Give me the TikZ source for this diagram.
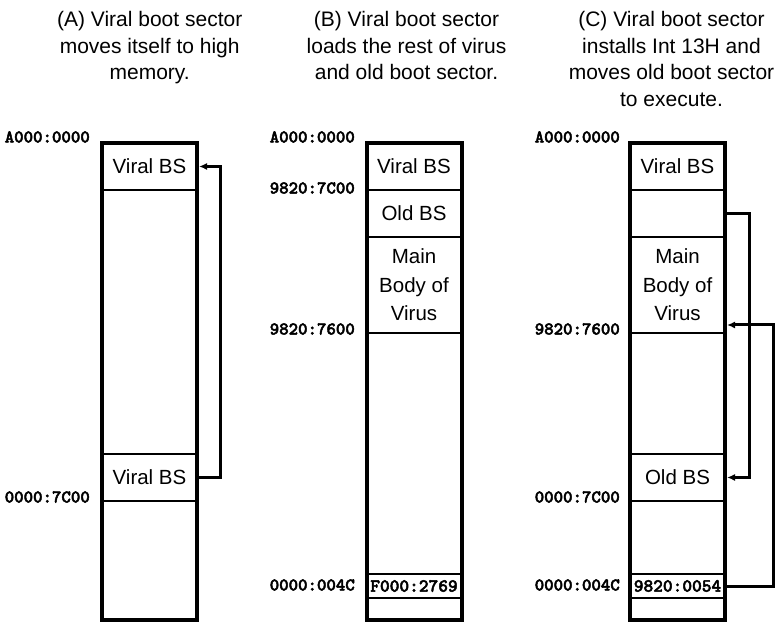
\documentclass[tikz,border=0pt]{standalone}
\usepackage{fontspec}
\setmainfont{Liberation Sans}
\newfontfamily\addrfont{lmmonolt10-bold.otf}[FakeBold=2.5]
\usetikzlibrary{arrows.meta,positioning,fit}

\begin{document}
\begin{tikzpicture}[x=1pt, y=1pt,
  cell/.style={draw, line width=2pt, minimum width=95pt, inner sep=0pt, outer sep=0pt, align=center, font=\fontsize{20.5}{28.5}\selectfont},
  frame/.style={draw, line width=4pt, inner sep=0pt},
  addr/.style={anchor=east, inner sep=0pt, font=\addrfont\fontsize{18}{18}\selectfont},
  ptr/.style={font=\addrfont\fontsize{18.5}{18.5}\selectfont},
  ttl/.style={anchor=north, align=center, inner sep=0pt, font=\fontsize{21}{26.7}\selectfont},
  move/.style={-{Latex[length=8pt,width=7pt]}, line width=3pt},
  node distance=0pt]
\useasboundingbox (0,0) rectangle (783,623);

% captions
\node[ttl] (capA) at (149.7,612) {(A) Viral boot sector\\moves itself to high\\memory.};
\node[ttl] (capB) at (406.5,612) {(B) Viral boot sector\\loads the rest of virus\\and old boot sector.};
\node[ttl] (capC) at (671.5,612) {(C) Viral boot sector\\installs Int 13H and\\moves old boot sector\\to execute.};

% (A) memory map
\node[cell, minimum height=47pt, anchor=north west] (vbsA) at (102,480) {Viral BS};
\node[cell, minimum height=264pt, below=of vbsA] (freeA) {};
\node[cell, minimum height=47pt, below=of freeA] (oldA) {Viral BS};
\node[cell, minimum height=119pt, below=of oldA] (lowA) {};
\node[frame, fit=(vbsA)(lowA)] (memA) {};
\node[addr, xshift=-12pt, yshift=6pt] (topA) at (vbsA.north west) {A000:0000};
\node[addr, xshift=-12pt, yshift=4pt] (bootA) at (lowA.north west) {0000:7C00};
\draw[move] (oldA.east) -- ++(23,0) |- ([xshift=2pt]vbsA.east);

% (B) memory map
\node[cell, minimum height=47pt, anchor=north west] (vbsB) at (366.5,480) {Viral BS};
\node[cell, minimum height=47pt, below=of vbsB] (oldB) {Old BS};
\node[cell, minimum height=96pt, below=of oldB] (bodyB) {Main\\Body of\\Virus};
\node[cell, minimum height=241pt, below=of bodyB] (freeB) {};
\node[cell, ptr, minimum height=24pt, below=of freeB] (ptrB) {F000:2769};
\node[cell, minimum height=22pt, below=of ptrB] (lowB) {};
\node[frame, fit=(vbsB)(lowB)] (memB) {};
\node[addr, xshift=-11.5pt, yshift=6pt] (topB) at (vbsB.north west) {A000:0000};
\node[addr, xshift=-11.5pt, yshift=2pt] (oldaddrB) at (oldB.north west) {9820:7C00};
\node[addr, xshift=-11.5pt, yshift=4pt] (bodyaddrB) at (freeB.north west) {9820:7600};
\node[addr, xshift=-11.5pt, yshift=1pt] (vecB) at (ptrB.west) {0000:004C};

% (C) memory map
\node[cell, minimum height=47pt, anchor=north west] (vbsC) at (630,480) {Viral BS};
\node[cell, minimum height=47pt, below=of vbsC] (spareC) {};
\node[cell, minimum height=96pt, below=of spareC] (bodyC) {Main\\Body of\\Virus};
\node[cell, minimum height=121pt, below=of bodyC] (freeC) {};
\node[cell, minimum height=47pt, below=of freeC] (oldC) {Old BS};
\node[cell, minimum height=73pt, below=of oldC] (gapC) {};
\node[cell, ptr, minimum height=24pt, below=of gapC] (ptrC) {9820:0054};
\node[cell, minimum height=22pt, below=of ptrC] (lowC) {};
\node[frame, fit=(vbsC)(lowC)] (memC) {};
\node[addr, xshift=-10pt, yshift=6pt] (topC) at (vbsC.north west) {A000:0000};
\node[addr, xshift=-10pt, yshift=4pt] (bodyaddrC) at (freeC.north west) {9820:7600};
\node[addr, xshift=-10pt, yshift=4pt] (bootC) at (gapC.north west) {0000:7C00};
\node[addr, xshift=-10pt, yshift=1pt] (vecC) at (ptrC.west) {0000:004C};
\draw[move] (spareC.east) -- ++(24,0) |- ([xshift=2pt]oldC.east);
\draw[move] (ptrC.east) -- ++(48,0) |- ([xshift=2pt, yshift=8pt]bodyC.south east);
\end{tikzpicture}
\end{document}
